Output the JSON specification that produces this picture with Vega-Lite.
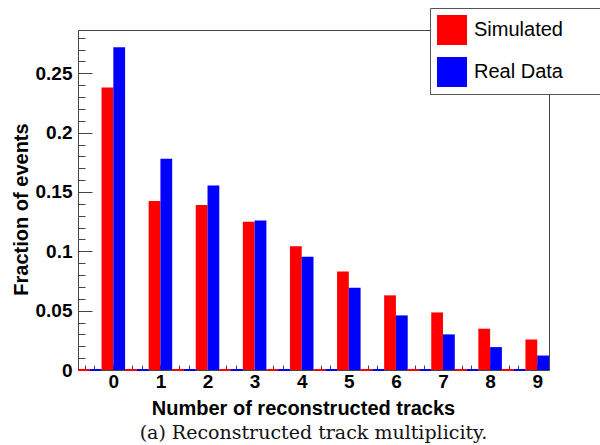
{
  "$schema": "https://vega.github.io/schema/vega-lite/v6.json",
  "width": 471,
  "height": 340,
  "autosize": {"type": "none"},
  "padding": {"left": 78, "top": 30, "right": 51, "bottom": 75},
  "background": "white",
  "config": {
    "view": {"stroke": "#444", "strokeWidth": 1},
    "font": "Liberation Sans",
    "axis": {"domainColor": "#444", "tickColor": "#444", "grid": false, "labelColor": "#000", "titleColor": "#000"}
  },
  "title": {
    "text": "(a) Reconstructed track multiplicity.",
    "orient": "bottom",
    "anchor": "middle",
    "font": "DejaVu Serif",
    "fontSize": 19,
    "fontWeight": "normal",
    "color": "#111",
    "offset": 6
  },
  "data": {
    "values": [
      {"n": 0, "series": "Simulated", "value": 0.238},
      {"n": 0, "series": "Real Data", "value": 0.272},
      {"n": 1, "series": "Simulated", "value": 0.1425},
      {"n": 1, "series": "Real Data", "value": 0.178},
      {"n": 2, "series": "Simulated", "value": 0.139},
      {"n": 2, "series": "Real Data", "value": 0.1554},
      {"n": 3, "series": "Simulated", "value": 0.125},
      {"n": 3, "series": "Real Data", "value": 0.126},
      {"n": 4, "series": "Simulated", "value": 0.1042},
      {"n": 4, "series": "Real Data", "value": 0.0955},
      {"n": 5, "series": "Simulated", "value": 0.0831},
      {"n": 5, "series": "Real Data", "value": 0.0694},
      {"n": 6, "series": "Simulated", "value": 0.0629},
      {"n": 6, "series": "Real Data", "value": 0.046},
      {"n": 7, "series": "Simulated", "value": 0.0485},
      {"n": 7, "series": "Real Data", "value": 0.030},
      {"n": 8, "series": "Simulated", "value": 0.0348},
      {"n": 8, "series": "Real Data", "value": 0.0193},
      {"n": 9, "series": "Simulated", "value": 0.0257},
      {"n": 9, "series": "Real Data", "value": 0.0122}
    ]
  },
  "resolve": {"axis": {"x": "independent", "y": "independent"}},
  "layer": [
    {
      "transform": [
        {"filter": "datum.series == 'Simulated'"},
        {"calculate": "datum.n - 0.75", "as": "z0"},
        {"calculate": "datum.n - 0.5", "as": "z1"}
      ],
      "mark": {"type": "rule", "color": "#ff0000", "strokeWidth": 2},
      "encoding": {
        "x": {
          "field": "z0", "type": "quantitative",
          "scale": {"domain": [-0.75, 9.25], "nice": false, "zero": false},
          "axis": {
            "orient": "bottom",
            "values": [-0.6, -0.4, -0.2, 0, 0.2, 0.4, 0.6, 0.8, 1, 1.2, 1.4, 1.6, 1.8, 2, 2.2, 2.4, 2.6, 2.8, 3, 3.2, 3.4, 3.6, 3.8, 4, 4.2, 4.4, 4.6, 4.8, 5, 5.2, 5.4, 5.6, 5.8, 6, 6.2, 6.4, 6.6, 6.8, 7, 7.2, 7.4, 7.6, 7.8, 8, 8.2, 8.4, 8.6, 8.8, 9, 9.2],
            "tickSize": 5, "offset": -5, "labels": false, "domain": false, "title": null
          }
        },
        "x2": {"field": "z1"},
        "y": {
          "datum": 0, "type": "quantitative",
          "scale": {"domain": [0, 0.2865], "nice": false},
          "axis": {
            "orient": "left",
            "values": [0, 0.01, 0.02, 0.03, 0.04, 0.05, 0.06, 0.07, 0.08, 0.09, 0.1, 0.11, 0.12, 0.13, 0.14, 0.15, 0.16, 0.17, 0.18, 0.19, 0.2, 0.21, 0.22, 0.23, 0.24, 0.25, 0.26, 0.27, 0.28],
            "tickSize": 7, "offset": -7, "labels": false, "domain": false, "title": null
          }
        }
      }
    },
    {
      "transform": [
        {"filter": "datum.series == 'Real Data'"},
        {"calculate": "datum.n - 0.5", "as": "z0"},
        {"calculate": "datum.n - 0.25", "as": "z1"}
      ],
      "mark": {"type": "rule", "color": "#0000ff", "strokeWidth": 2},
      "encoding": {
        "x": {"field": "z0", "type": "quantitative", "axis": null},
        "x2": {"field": "z1"},
        "y": {
          "datum": 0, "type": "quantitative",
          "axis": {
            "orient": "left",
            "values": [0, 0.05, 0.1, 0.15, 0.2, 0.25],
            "tickSize": 14, "offset": -14, "labels": false, "domain": false, "title": null
          }
        }
      }
    },
    {
      "transform": [
        {"calculate": "datum.series == 'Simulated' ? datum.n - 0.25 : datum.n", "as": "x0"},
        {"calculate": "datum.x0 + 0.25", "as": "x1"}
      ],
      "mark": {"type": "bar"},
      "encoding": {
        "x": {
          "field": "x0", "type": "quantitative",
          "axis": {
            "orient": "bottom",
            "values": [0, 1, 2, 3, 4, 5, 6, 7, 8, 9],
            "format": "d",
            "ticks": false, "tickSize": 0,
            "labelPadding": 2,
            "labelFontSize": 19, "labelFontWeight": "bold",
            "title": "Number of reconstructed tracks",
            "titleFontSize": 20, "titleFontWeight": "bold",
            "titleX": 225, "titleY": 44, "titleAlign": "center", "titleBaseline": "alphabetic"
          }
        },
        "x2": {"field": "x1"},
        "y": {
          "field": "value", "type": "quantitative",
          "axis": {
            "orient": "left",
            "values": [0, 0.05, 0.1, 0.15, 0.2, 0.25],
            "ticks": false, "tickSize": 0,
            "labelPadding": 6,
            "labelFontSize": 19, "labelFontWeight": "bold",
            "labelExpr": "datum.value == 0 ? '0' : format(datum.value, '.2~f')",
            "title": "Fraction of events",
            "titleFontSize": 20, "titleFontWeight": "bold",
            "titleX": -51, "titleY": 179, "titleAlign": "center", "titleBaseline": "alphabetic", "titleAngle": -90
          }
        },
        "y2": {"datum": 0},
        "color": {
          "field": "series", "type": "nominal",
          "scale": {"domain": ["Simulated", "Real Data"], "range": ["#ff0000", "#0000ff"]},
          "legend": {
            "orient": "none",
            "legendX": 352,
            "legendY": -22,
            "title": " ",
            "titleOrient": "right",
            "titlePadding": 60,
            "titleFontSize": 10,
            "fillColor": "white",
            "strokeColor": "#555",
            "padding": 7,
            "symbolType": "square",
            "symbolSize": 900,
            "symbolStrokeWidth": 0,
            "symbolOpacity": 1,
            "labelFontSize": 20,
            "labelFont": "Liberation Sans",
            "labelColor": "#000",
            "labelOffset": 7,
            "rowPadding": 12
          }
        }
      }
    }
  ]
}
